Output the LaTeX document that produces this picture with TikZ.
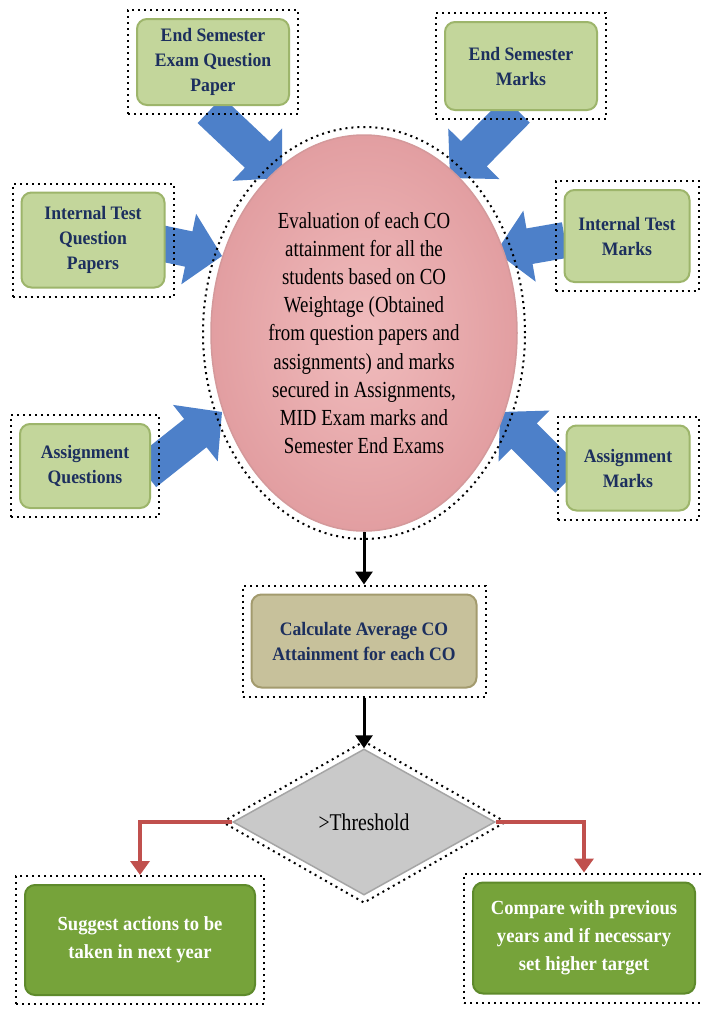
\documentclass[tikz,border=0pt]{standalone}
\usepackage{fontspec}
\setmainfont{Liberation Serif}
\newfontfamily\condfont[FakeStretch=0.82]{Liberation Serif}
\newfontfamily\boxfont[FakeStretch=0.93]{Liberation Serif}
\usetikzlibrary{calc,shapes.geometric,arrows.meta,fit}
\definecolor{lgreen}{HTML}{C3D69B}
\definecolor{lgreenedge}{HTML}{9DB56B}
\definecolor{navy}{HTML}{1C2F5E}
\definecolor{tan}{HTML}{C7C19B}
\definecolor{tanedge}{HTML}{A39B6E}
\definecolor{dgreen}{HTML}{76A33A}
\definecolor{dgreenedge}{HTML}{5E8A2B}
\definecolor{pinkin}{HTML}{F0BCBD}
\definecolor{pinkout}{HTML}{E29EA1}
\definecolor{pinkedge}{HTML}{D4999B}
\definecolor{greyfill}{HTML}{C9C9C9}
\definecolor{greyedge}{HTML}{A5A5A5}
\definecolor{blockblue}{HTML}{4D80C9}
\definecolor{flowred}{HTML}{C0504D}
\newcommand{\bluearrow}[2]{%
  \coordinate (#1n) at ($(#2)!34pt!(#1)$);
  \fill[blockblue] ($(#1)!18pt!90:(#2)$) -- ($(#1n)!18pt!90:(#2)$) -- ($(#1n)!36pt!90:(#2)$) -- (#2)
    -- ($(#1n)!36pt!-90:(#2)$) -- ($(#1n)!18pt!-90:(#2)$) -- ($(#1)!18pt!-90:(#2)$) -- cycle;}
\begin{document}
\begin{tikzpicture}[x=1pt,y=-1pt,
  basebox/.style={rectangle, rounded corners=10pt, line width=2pt, align=center, inner sep=0pt},
  lgbox/.style={basebox, fill=lgreen, draw=lgreenedge, text=navy, font=\boxfont\bfseries\fontsize{19}{25}\selectfont},
  tanbox/.style={basebox, fill=tan, draw=tanedge, text=navy, font=\boxfont\bfseries\fontsize{19}{25}\selectfont},
  dgbox/.style={basebox, fill=dgreen, draw=dgreenedge, text=white, font=\boxfont\bfseries\fontsize{20}{28}\selectfont},
  dotframe/.style={draw=black, line width=2pt, dash pattern=on 2pt off 4pt, inner sep=8pt},
  blackarrow/.style={draw=black, line width=3pt, -{Triangle[length=13pt,width=17pt]}},
  redarrow/.style={draw=flowred, line width=4pt, -{Triangle[length=14pt,width=19pt]}}
]
\fill[white] (0,0) rectangle (702,1010);
\useasboundingbox (0,0) rectangle (702,1010);

% blue block arrows (drawn first, behind boxes)
\coordinate (a1) at (210,110); \coordinate (a1tip) at (282,178);
\coordinate (a2) at (517,110); \coordinate (a2tip) at (450,178);
\coordinate (a3) at (160,243); \coordinate (a3tip) at (222,256);
\coordinate (a4) at (565,240); \coordinate (a4tip) at (496,252);
\coordinate (a5) at (145,473); \coordinate (a5tip) at (222,412);
\coordinate (a6) at (568,480); \coordinate (a6tip) at (500,412);
\bluearrow{a1}{a1tip}
\bluearrow{a2}{a2tip}
\bluearrow{a3}{a3tip}
\bluearrow{a4}{a4tip}
\bluearrow{a5}{a5tip}
\bluearrow{a6}{a6tip}

% central ellipse
\node[ellipse, draw=pinkedge, line width=1.5pt, inner sep=0pt, shading=radial, inner color=pinkin, outer color=pinkout,
  minimum width=306pt, minimum height=396pt, align=center,
  font=\condfont\fontsize{23}{28.1}\selectfont] (ev) at (364,333)
  {Evaluation of each CO\\attainment for all the\\students based on CO\\Weightage (Obtained\\from question papers and\\assignments) and marks\\secured in Assignments,\\MID Exam marks and\\Semester End Exams};
\node[ellipse, dotframe, inner sep=0pt, minimum width=322pt, minimum height=412pt] (evf) at (ev.center) {};

% input boxes
\node[lgbox, minimum width=152pt, minimum height=86pt] (b1) at (213,62) {End Semester\\Exam Question\\Paper};
\node[lgbox, minimum width=152pt, minimum height=88pt] (b2) at (521,66) {End Semester\\Marks};
\node[lgbox, minimum width=143pt, minimum height=95pt] (b3) at (93,240) {Internal Test\\Question\\Papers};
\node[lgbox, minimum width=125pt, minimum height=92pt] (b4) at (627,236) {Internal Test\\Marks};
\node[lgbox, minimum width=130pt, minimum height=84pt] (b5) at (85,466) {Assignment\\Questions};
\node[lgbox, minimum width=123pt, minimum height=85pt] (b6) at (628,468) {Assignment\\Marks};
\node[dotframe, fit=(b1)] (b1f) {};
\node[dotframe, fit=(b2)] (b2f) {};
\node[dotframe, fit=(b3)] (b3f) {};
\node[dotframe, fit=(b4)] (b4f) {};
\node[dotframe, fit=(b5)] (b5f) {};
\node[dotframe, fit=(b6)] (b6f) {};

% average box
\node[tanbox, minimum width=225pt, minimum height=93pt] (b7) at (364,641) {Calculate Average CO\\Attainment for each CO};
\node[dotframe, fit=(b7)] (b7f) {};

% decision
\node[diamond, fill=greyfill, draw=greyedge, line width=1.5pt, inner sep=0pt,
  minimum width=262pt, minimum height=146pt,
  font=\condfont\fontsize{24}{28}\selectfont] (th) at (364,822) {>Threshold};
\node[diamond, dotframe, inner sep=0pt, minimum width=284pt, minimum height=162pt] (thf) at (th.center) {};

% outcome boxes
\node[dgbox, minimum width=230pt, minimum height=110pt] (b8) at (140,940) {Suggest actions to be\\taken in next year};
\node[dgbox, minimum width=222pt, minimum height=111pt] (b9) at (584,938) {Compare with previous\\years and if necessary\\set higher target};
\node[dotframe, fit=(b8)] (b8f) {};
\node[dotframe, fit=(b9)] (b9f) {};

% connectors
\draw[blackarrow] (ev.south) -- (b7f.north);
\draw[blackarrow] (b7f.south) -- (th.north);
\draw[redarrow] (th.west) -| (b8f.north);
\draw[redarrow] (th.east) -| (b9f.north);
\end{tikzpicture}
\end{document}
